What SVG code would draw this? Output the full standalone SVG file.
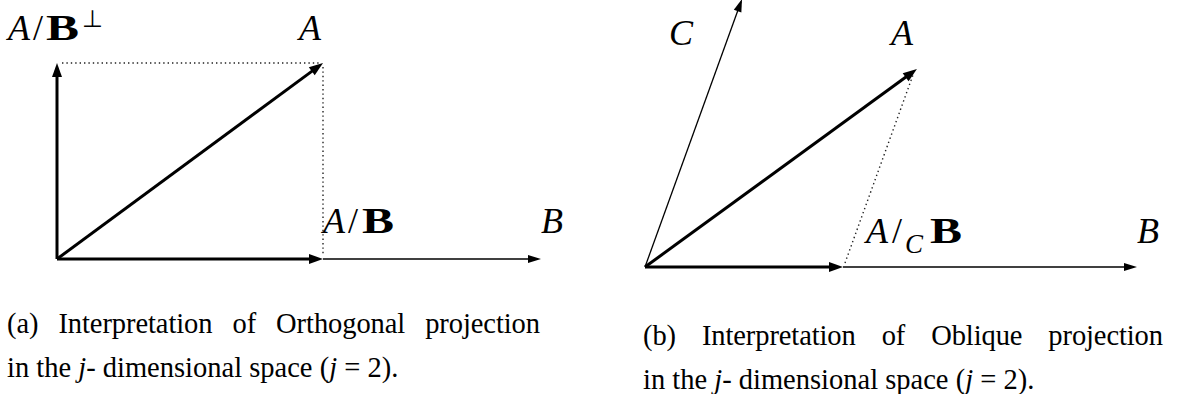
<svg xmlns="http://www.w3.org/2000/svg" width="1178" height="394" viewBox="0 0 1178 394">
<style>
  .thick { stroke: #000; stroke-width: 3; fill: none; }
  .thin { stroke: #000; stroke-width: 1.3; fill: none; }
  .dot { stroke: #222; stroke-width: 1.4; stroke-dasharray: 1.4 3; fill: none; }
  .m { font-family: "Liberation Serif", "Times New Roman", serif; font-size: 36px; fill: #000; }
  .sub { font-size: 27px; }
  .sup { font-size: 24px; }
  .it { font-style: italic; }
  .bf { font-weight: bold; }
  .cap { font-family: "Liberation Serif", "Times New Roman", serif; font-size: 28.5px; fill: #000; }
</style>
<defs>
  <marker id="hThick" markerUnits="userSpaceOnUse" markerWidth="16" markerHeight="12" refX="8" refY="5" orient="auto" overflow="visible">
    <path d="M0,0 L14,5 L0,10 z" fill="#000"/>
  </marker>
  <marker id="hThin" markerUnits="userSpaceOnUse" markerWidth="16" markerHeight="10" refX="10" refY="4" orient="auto" overflow="visible">
    <path d="M0,0 L13,4 L0,8 z" fill="#000"/>
  </marker>
</defs>
<rect width="1178" height="394" fill="#fff"/>

<g id="connectors">
  <!-- left (a) -->
  <line class="dot" x1="62" y1="63" x2="321" y2="63"/>
  <line class="dot" x1="323" y1="67" x2="323" y2="256"/>
  <line class="thick" x1="57" y1="259" x2="57" y2="69" marker-end="url(#hThick)"/>
  <line class="thick" x1="57" y1="259" x2="318.2" y2="66.6" marker-end="url(#hThick)"/>
  <line class="thick" x1="57" y1="259" x2="317" y2="259" marker-end="url(#hThick)"/>
  <line class="thin" x1="323" y1="259" x2="538" y2="259" marker-end="url(#hThin)"/>
  <!-- right (b) -->
  <line class="dot" x1="845" y1="263" x2="913" y2="75"/>
  <line class="thin" x1="645" y1="267" x2="741" y2="1.8" marker-end="url(#hThin)"/>
  <line class="thick" x1="645" y1="267" x2="912.1" y2="72.5" marker-end="url(#hThick)"/>
  <line class="thick" x1="645" y1="267" x2="837" y2="267" marker-end="url(#hThick)"/>
  <line class="thin" x1="843" y1="267" x2="1134" y2="267" marker-end="url(#hThin)"/>
</g>

<g id="label-a-perp">
  <text class="m it" x="8" y="40">A</text>
  <text class="m" x="33" y="40">/</text>
  <text class="m bf" x="46" y="40" textLength="33" lengthAdjust="spacingAndGlyphs">B</text>
  <text class="m sup" x="82" y="27">⊥</text>
</g>
<g id="label-a-A">
  <text class="m it" x="299" y="40">A</text>
</g>
<g id="label-a-proj">
  <text class="m it" x="323" y="233">A</text>
  <text class="m" x="348" y="233">/</text>
  <text class="m bf" x="362" y="233" textLength="32" lengthAdjust="spacingAndGlyphs">B</text>
</g>
<g id="label-a-B">
  <text class="m it" x="541" y="233">B</text>
</g>

<g id="label-b-C">
  <text class="m it" x="669" y="45">C</text>
</g>
<g id="label-b-A">
  <text class="m it" x="891" y="45">A</text>
</g>
<g id="label-b-proj">
  <text class="m it" x="866" y="243">A</text>
  <text class="m" x="892" y="243">/</text>
  <text class="m it sub" x="905" y="253">C</text>
  <text class="m bf" x="930" y="243" textLength="32" lengthAdjust="spacingAndGlyphs">B</text>
</g>
<g id="label-b-B">
  <text class="m it" x="1137" y="243">B</text>
</g>

<g id="caption-a">
  <text class="cap" x="7" y="333" textLength="533" lengthAdjust="spacing" style="word-spacing:13px">(a) Interpretation of Orthogonal projection</text>
  <text class="cap" x="7" y="377">in the <tspan class="it">j</tspan>- dimensional space (<tspan class="it">j</tspan> = 2).</text>
</g>
<g id="caption-b">
  <text class="cap" x="643" y="345" textLength="520" lengthAdjust="spacing" style="word-spacing:19px">(b) Interpretation of Oblique projection</text>
  <text class="cap" x="643" y="389">in the <tspan class="it">j</tspan>- dimensional space (<tspan class="it">j</tspan> = 2).</text>
</g>
</svg>
